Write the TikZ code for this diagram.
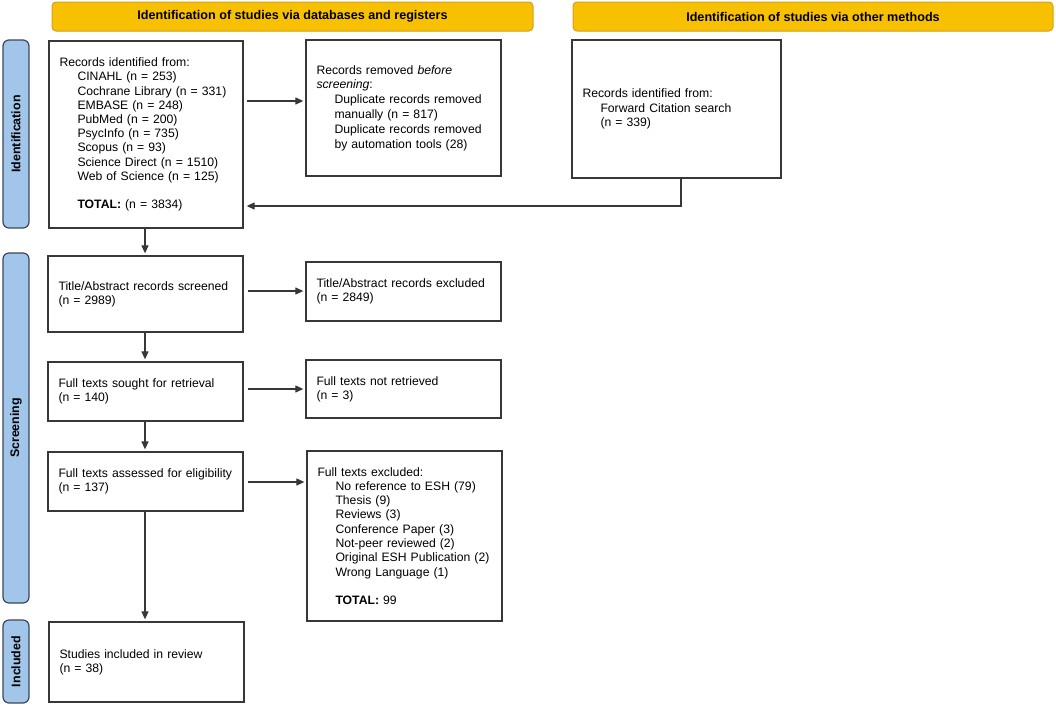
\documentclass[tikz,border=0pt]{standalone}
\usepackage{fontspec}
\setmainfont{Liberation Sans}
\usetikzlibrary{arrows.meta}
\definecolor{hdrfill}{RGB}{247,192,0}
\definecolor{hdrline}{RGB}{214,160,30}
\definecolor{sidefill}{RGB}{162,197,234}
\definecolor{sideline}{RGB}{60,72,90}
\definecolor{boxline}{RGB}{55,55,55}
\newcommand{\ind}{\hspace*{18pt}}
\begin{document}
\begin{tikzpicture}[x=1pt,y=-1pt,
  font=\fontsize{12.2}{14.2}\selectfont,
  box/.style={draw=boxline, line width=1.3pt, inner xsep=10.5pt, inner ysep=0pt, align=left,
    execute at begin node={\hyphenpenalty=10000\exhyphenpenalty=10000}},
  hdr/.style={draw=hdrline, fill=hdrfill, line width=1pt, rounded corners=4pt, font=\fontsize{12.6}{14}\selectfont\bfseries, minimum height=29pt, inner sep=0pt},
  side/.style={draw=sideline, fill=sidefill, line width=1.2pt, rounded corners=6pt, rotate=90, font=\fontsize{12.4}{14}\selectfont\bfseries, minimum height=26pt, inner sep=0pt},
  arr/.style={draw=boxline, line width=1.2pt, -{Triangle[length=8pt,width=7pt]}}]
\useasboundingbox (0,0) rectangle (1056,707);
\fill[white] (0,0) rectangle (1056,707);

% headers
\node[hdr, minimum width=481pt] (h1) at (292.5,16.5) {\raisebox{-1pt}{Identification of studies via databases and registers}};
\node[hdr, minimum width=480pt] (h2) at (813,16.5) {\raisebox{-1pt}{Identification of studies via other methods}};

% side bars
\node[side, minimum width=188pt] (s1) at (16,134) {Identification};
\node[side, minimum width=350pt] (s2) at (16,428) {Screening};
\node[side, minimum width=83pt] (s3) at (16,661.5) {Included};

% boxes
\node[box, minimum width=194pt, minimum height=187pt, text width=173pt] (A) at (146,134.5) {Records identified from:\\
\ind CINAHL (n = 253)\\
\ind Cochrane Library (n = 331)\\
\ind EMBASE (n = 248)\\
\ind PubMed (n = 200)\\
\ind PsycInfo (n = 735)\\
\ind Scopus (n = 93)\\
\ind Science Direct (n = 1510)\\
\ind Web of Science (n = 125)\\[14.2pt]
\ind \textbf{TOTAL:} (n = 3834)};

\node[box, minimum width=195pt, minimum height=136pt, text width=174pt, font=\fontsize{12.2}{14.8}\selectfont] (B) at (403.5,108) {Records removed \textit{before}\\
\textit{screening}:\\
\ind Duplicate records removed\\
\ind manually (n = 817)\\
\ind Duplicate records removed\\
\ind by automation tools (28)};

\node[box, minimum width=209pt, minimum height=138pt, text width=188pt] (C) at (676.5,109) {Records identified from:\\
\ind Forward Citation search\\
\ind (n = 339)};

\node[box, minimum width=195pt, minimum height=76pt, text width=174pt] (D) at (145.5,294) {Title/Abstract records screened\\(n = 2989)};
\node[box, minimum width=195pt, minimum height=59pt, text width=174pt] (E) at (403.5,291.5) {Title/Abstract records excluded\\(n = 2849)};
\node[box, minimum width=195pt, minimum height=59pt, text width=174pt] (F) at (145.5,391.5) {Full texts sought for retrieval\\(n = 140)};
\node[box, minimum width=195pt, minimum height=58pt, text width=174pt] (G) at (403.5,389) {Full texts not retrieved\\(n = 3)};
\node[box, minimum width=195pt, minimum height=59pt, text width=174pt] (H) at (145.5,481.5) {Full texts assessed for eligibility\\(n = 137)};
\node[box, minimum width=195pt, minimum height=170pt, text width=174pt, font=\fontsize{12.2}{14.3}\selectfont] (I) at (404.5,536) {Full texts excluded:\\
\ind No reference to ESH (79)\\
\ind Thesis (9)\\
\ind Reviews (3)\\
\ind Conference Paper (3)\\
\ind Not-peer reviewed (2)\\
\ind Original ESH Publication (2)\\
\ind Wrong Language (1)\\[14.3pt]
\ind \textbf{TOTAL:} 99};
\node[box, minimum width=195pt, minimum height=80pt, text width=174pt] (J) at (146.5,662) {Studies included in review\\(n = 38)};

% connector coordinates
\coordinate (vx) at (145,0);
\coordinate (yab) at (0,101);
\coordinate (yca) at (681,206);
\coordinate (yde) at (0,291);
\coordinate (yfg) at (0,389);
\coordinate (yhi) at (0,482);

\draw[arr, shorten <=3pt, shorten >=2pt] (A.east |- yab) -- (B.west |- yab);
\draw[arr, shorten >=3pt] (C.south -| yca) |- (A.east |- yca);
\draw[arr, shorten >=2pt] (A.south -| vx) -- (D.north -| vx);
\draw[arr, shorten <=4pt, shorten >=2pt] (D.east |- yde) -- (E.west |- yde);
\draw[arr, shorten >=2pt] (D.south -| vx) -- (F.north -| vx);
\draw[arr, shorten <=4pt, shorten >=2pt] (F.east |- yfg) -- (G.west |- yfg);
\draw[arr, shorten >=2pt] (F.south -| vx) -- (H.north -| vx);
\draw[arr, shorten <=4pt, shorten >=2pt] (H.east |- yhi) -- (I.west |- yhi);
\draw[arr, shorten >=2pt] (H.south -| vx) -- (J.north -| vx);
\end{tikzpicture}
\end{document}
